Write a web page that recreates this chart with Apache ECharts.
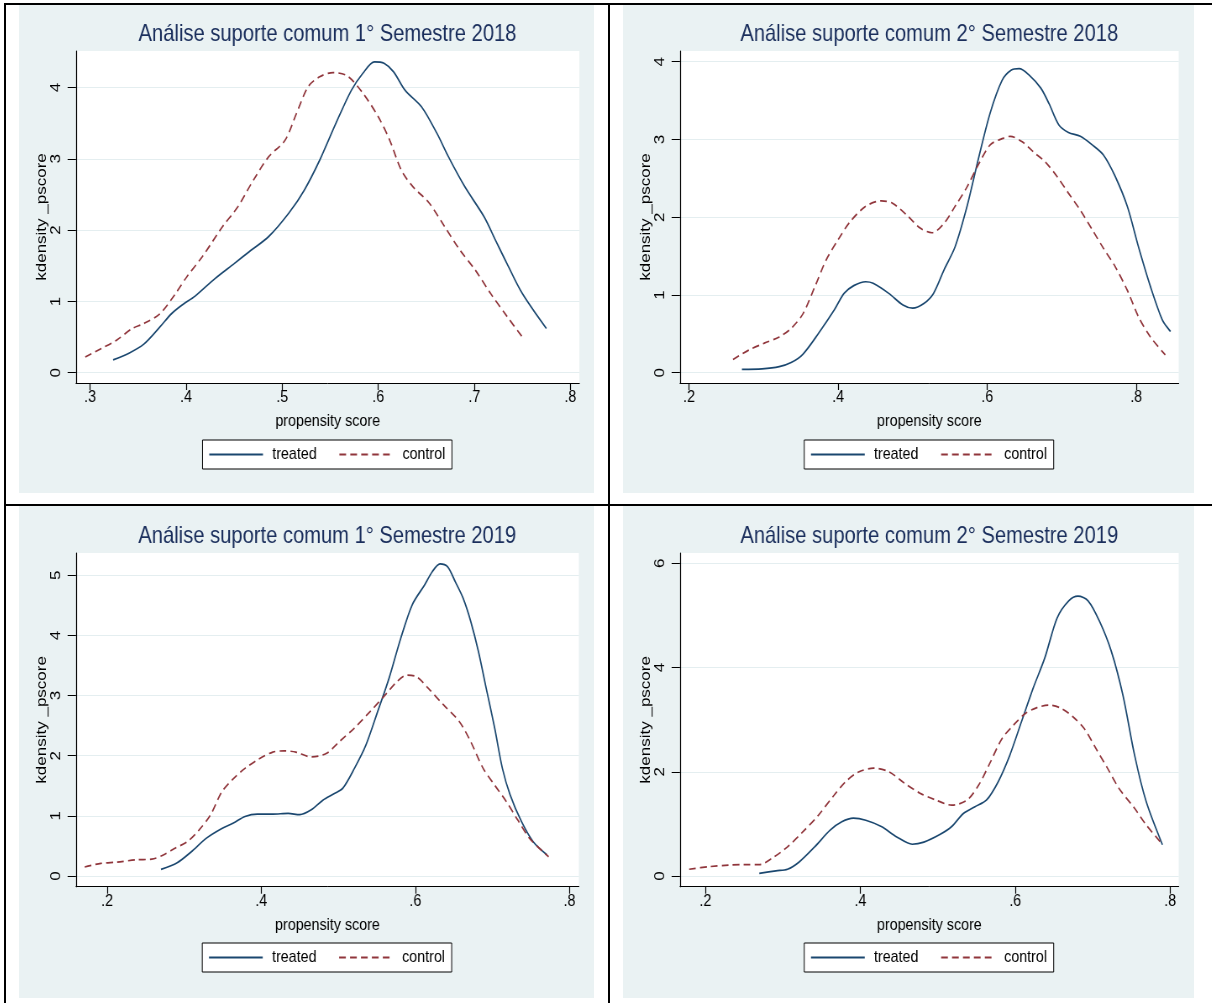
<!DOCTYPE html>
<html><head><meta charset="utf-8">
<script src="https://cdn.jsdelivr.net/npm/echarts@6/dist/echarts.min.js"></script>
<style>
html,body{margin:0;padding:0;background:#fff;}
#page{position:relative;width:1212px;height:1003px;overflow:hidden;background:#fff;}
.rule{position:absolute;background:#000;}
.panel{position:absolute;overflow:hidden;background:#EAF2F3;}
.chart{position:absolute;left:0;top:0;transform-origin:0 0;}
</style></head><body>
<div id="page">
 <div class="rule" style="left:4px;top:3px;width:1208px;height:2px"></div>
 <div class="rule" style="left:4px;top:3px;width:2px;height:1000px"></div>
 <div class="rule" style="left:608px;top:3px;width:2px;height:1000px"></div>
 <div class="rule" style="left:4px;top:504px;width:1208px;height:2px"></div>
 <div class="panel" style="left:19px;top:5px;width:575px;height:488px"><div class="chart" id="c1"></div></div>
 <div class="panel" style="left:623px;top:5px;width:571px;height:488px"><div class="chart" id="c2"></div></div>
 <div class="panel" style="left:19px;top:506px;width:575px;height:492px"><div class="chart" id="c3"></div></div>
 <div class="panel" style="left:623px;top:506px;width:571px;height:492px"><div class="chart" id="c4"></div></div>
</div>
<script>
// ---------- data ----------
const titles = [
  'Análise suporte comum 1° Semestre 2018',
  'Análise suporte comum 2° Semestre 2018',
  'Análise suporte comum 1° Semestre 2019',
  'Análise suporte comum 2° Semestre 2019'
];
const seriesNames = ['treated', 'control'];
const xAxisTitle = 'propensity score';
const yAxisTitle = 'kdensity _pscore';

const xTicks1 = [0.3, 0.4, 0.5, 0.6, 0.7, 0.8];
const yTicks1 = [0, 1, 2, 3, 4];
const xTicks2 = [0.2, 0.4, 0.6, 0.8];
const yTicks2 = [0, 1, 2, 3, 4];
const xTicks3 = [0.2, 0.4, 0.6, 0.8];
const yTicks3 = [0, 1, 2, 3, 4, 5];
const xTicks4 = [0.2, 0.4, 0.6, 0.8];
const yTicks4 = [0, 2, 4, 6];

const treated1 = [[0.324,0.18],[0.340,0.27],[0.356,0.40],[0.373,0.645],[0.385,0.83],[0.397,0.96],[0.409,1.07],[0.430,1.32],[0.450,1.53],[0.466,1.70],[0.486,1.91],[0.507,2.24],[0.523,2.56],[0.539,2.98],[0.556,3.50],[0.572,3.96],[0.584,4.20],[0.596,4.36],[0.606,4.34],[0.616,4.22],[0.628,3.96],[0.645,3.73],[0.661,3.36],[0.673,3.03],[0.690,2.61],[0.710,2.19],[0.722,1.86],[0.734,1.53],[0.750,1.11],[0.775,0.62]];
const control1 = [[0.295,0.22],[0.312,0.34],[0.328,0.46],[0.344,0.62],[0.356,0.69],[0.373,0.83],[0.389,1.11],[0.401,1.35],[0.417,1.63],[0.438,2.05],[0.454,2.33],[0.470,2.70],[0.486,3.03],[0.503,3.26],[0.515,3.64],[0.527,4.01],[0.539,4.15],[0.553,4.21],[0.568,4.16],[0.584,3.92],[0.600,3.59],[0.612,3.26],[0.624,2.84],[0.636,2.61],[0.653,2.38],[0.669,2.05],[0.685,1.72],[0.701,1.44],[0.717,1.11],[0.734,0.79],[0.750,0.50]];

const treated2 = [[0.271,0.044],[0.298,0.05],[0.321,0.077],[0.337,0.13],[0.353,0.24],[0.374,0.51],[0.395,0.81],[0.408,1.02],[0.421,1.12],[0.437,1.17],[0.447,1.15],[0.468,1.02],[0.487,0.87],[0.500,0.83],[0.515,0.89],[0.528,1.02],[0.542,1.32],[0.557,1.62],[0.573,2.14],[0.589,2.78],[0.604,3.34],[0.620,3.76],[0.632,3.89],[0.643,3.91],[0.656,3.83],[0.672,3.66],[0.683,3.46],[0.696,3.19],[0.709,3.09],[0.725,3.04],[0.741,2.93],[0.756,2.80],[0.772,2.52],[0.788,2.14],[0.803,1.62],[0.819,1.11],[0.835,0.68],[0.846,0.53]];
const control2 = [[0.259,0.17],[0.280,0.29],[0.301,0.38],[0.321,0.46],[0.337,0.57],[0.353,0.76],[0.369,1.11],[0.384,1.45],[0.400,1.71],[0.416,1.94],[0.437,2.14],[0.458,2.21],[0.473,2.18],[0.494,2.01],[0.510,1.86],[0.526,1.80],[0.542,1.92],[0.557,2.14],[0.573,2.39],[0.589,2.69],[0.604,2.93],[0.620,3.01],[0.631,3.04],[0.647,2.97],[0.662,2.84],[0.678,2.71],[0.694,2.52],[0.709,2.31],[0.725,2.09],[0.741,1.84],[0.756,1.60],[0.772,1.36],[0.788,1.06],[0.803,0.72],[0.819,0.46],[0.839,0.23]];

const treated3 = [[0.270,0.11],[0.291,0.22],[0.309,0.40],[0.329,0.63],[0.349,0.79],[0.364,0.88],[0.379,0.99],[0.395,1.03],[0.415,1.03],[0.435,1.04],[0.450,1.02],[0.465,1.10],[0.480,1.26],[0.495,1.37],[0.506,1.46],[0.521,1.79],[0.536,2.18],[0.551,2.73],[0.566,3.29],[0.581,3.95],[0.596,4.51],[0.612,4.84],[0.622,5.06],[0.632,5.19],[0.642,5.14],[0.652,4.89],[0.662,4.62],[0.672,4.23],[0.682,3.73],[0.692,3.12],[0.703,2.46],[0.713,1.79],[0.723,1.35],[0.738,0.90],[0.753,0.57],[0.771,0.35]];
const control3 = [[0.171,0.15],[0.192,0.21],[0.213,0.23],[0.238,0.27],[0.258,0.28],[0.273,0.35],[0.288,0.46],[0.304,0.57],[0.319,0.76],[0.334,1.01],[0.349,1.40],[0.364,1.62],[0.379,1.79],[0.395,1.93],[0.415,2.06],[0.430,2.08],[0.445,2.06],[0.465,1.98],[0.485,2.04],[0.501,2.23],[0.521,2.46],[0.541,2.73],[0.561,3.01],[0.576,3.23],[0.589,3.34],[0.602,3.31],[0.617,3.12],[0.637,2.84],[0.657,2.57],[0.672,2.23],[0.688,1.79],[0.703,1.51],[0.718,1.24],[0.733,0.93],[0.748,0.63],[0.766,0.40],[0.773,0.32]];

const treated4 = [[0.2695,0.05],[0.291,0.10],[0.306,0.13],[0.321,0.27],[0.341,0.56],[0.361,0.88],[0.376,1.04],[0.391,1.11],[0.407,1.07],[0.427,0.95],[0.447,0.75],[0.467,0.61],[0.482,0.65],[0.502,0.79],[0.518,0.95],[0.533,1.20],[0.548,1.33],[0.563,1.46],[0.578,1.81],[0.593,2.32],[0.608,2.96],[0.623,3.60],[0.638,4.18],[0.654,4.95],[0.669,5.28],[0.681,5.37],[0.694,5.28],[0.709,4.88],[0.724,4.31],[0.739,3.47],[0.754,2.32],[0.769,1.43],[0.790,0.60]];
const control4 = [[0.179,0.13],[0.205,0.18],[0.230,0.21],[0.250,0.22],[0.270,0.22],[0.286,0.34],[0.306,0.56],[0.326,0.85],[0.346,1.17],[0.366,1.55],[0.381,1.81],[0.397,1.99],[0.417,2.07],[0.437,2.00],[0.457,1.78],[0.477,1.59],[0.497,1.46],[0.518,1.36],[0.538,1.46],[0.553,1.75],[0.568,2.19],[0.583,2.64],[0.598,2.90],[0.613,3.12],[0.628,3.23],[0.643,3.28],[0.659,3.22],[0.674,3.06],[0.689,2.83],[0.704,2.45],[0.719,2.07],[0.734,1.68],[0.754,1.30],[0.769,0.98],[0.787,0.66]];

// ---------- layout / style ----------
const S = 0.84; // horizontal squeeze of the original picture
const FONT = '"Liberation Sans", Arial, Helvetica, sans-serif';
const C_TREAT = '#1a476f';
const C_CTRL = '#90353b';

const panels = [
  {id:'c1', w:575, h:488, title:titles[0], t:treated1, c:control1, xt:xTicks1, yt:yTicks1, xr:[0.2854,0.8094], yr:[-0.1445,4.512], g:{l:57,r:15,t:46,b:110}, titleTop:17, legendTop:435},
  {id:'c2', w:571, h:488, title:titles[1], t:treated2, c:control2, xt:xTicks2, yt:yTicks2, xr:[0.1879,0.857], yr:[-0.1325,4.1376], g:{l:57,r:15.5,t:46,b:110}, titleTop:17, legendTop:435},
  {id:'c3', w:575, h:492, title:titles[2], t:treated3, c:control3, xt:xTicks3, yt:yTicks3, xr:[0.1597,0.8123], yr:[-0.178,5.371], g:{l:57,r:15.5,t:47,b:111.3}, titleTop:18, legendTop:437},
  {id:'c4', w:571, h:492, title:titles[3], t:treated4, c:control4, xt:xTicks4, yt:yTicks4, xr:[0.1672,0.811], yr:[-0.205,6.198], g:{l:57,r:15.5,t:47,b:111.3}, titleTop:18, legendTop:437}
];

function fmtX(v){ return Number(v).toFixed(1).replace(/^0/, ''); }

panels.forEach(function(p){
  const el = document.getElementById(p.id);
  const W = p.w / S;
  el.style.width = W + 'px';
  el.style.height = p.h + 'px';
  el.style.transform = 'scaleX(' + S + ')';
  const gl = p.g.l / S, gr = p.g.r / S;
  const center = gl + (W - gl - gr) / 2;
  const chart = echarts.init(el, null, {renderer:'canvas'});
  chart.setOption({
    animation:false,
    backgroundColor:'#EAF2F3',
    textStyle:{fontFamily:FONT},
    title:{
      text:p.title, left:center, top:p.titleTop, textAlign:'center', padding:0,
      textStyle:{fontFamily:FONT, fontSize:24, fontWeight:'normal', color:'#1a2e5c'}
    },
    legend:{
      data:seriesNames, left:center - 297.6/2, top:p.legendTop, orient:'horizontal',
      itemWidth:64, itemHeight:14, itemGap:26, padding:[6,8,6,7],
      borderColor:'#000', borderWidth:1, backgroundColor:'#fff', borderRadius:0,
      itemStyle:{opacity:0, borderWidth:0},
      textStyle:{fontFamily:FONT, fontSize:17, color:'#000', padding:[0,0,0,6]}
    },
    grid:{left:gl, right:gr, top:p.g.t, bottom:p.g.b, show:true, backgroundColor:'#fff', borderWidth:0, containLabel:false},
    xAxis:{
      type:'value', min:p.xr[0], max:p.xr[1],
      name:xAxisTitle, nameLocation:'middle', nameGap:30, nameMoveOverlap:false,
      nameTextStyle:{fontFamily:FONT, fontSize:17, color:'#000'},
      axisLine:{show:true, onZero:false, lineStyle:{color:'#000', width:1}},
      axisTick:{show:true, length:7, customValues:p.xt, lineStyle:{color:'#000', width:1.2}},
      axisLabel:{show:true, margin:6, customValues:p.xt, formatter:fmtX, fontFamily:FONT, fontSize:17, color:'#000'},
      splitLine:{show:false}
    },
    yAxis:{
      type:'value', min:p.yr[0], max:p.yr[1],
      name:yAxisTitle, nameLocation:'middle', nameGap:32, nameRotate:90, nameMoveOverlap:false,
      nameTextStyle:{fontFamily:FONT, fontSize:17, color:'#000'},
      axisLine:{show:true, onZero:false, lineStyle:{color:'#000', width:1.2}},
      axisTick:{show:true, length:10, customValues:p.yt, lineStyle:{color:'#000', width:1}},
      axisLabel:{show:true, rotate:90, margin:15, customValues:p.yt, formatter:function(v){return String(v);}, fontFamily:FONT, fontSize:17, color:'#000'},
      splitLine:{show:true, lineStyle:{color:'#e4eef0', width:1.2}}
    },
    series:[
      {name:seriesNames[0], type:'line', data:p.t, symbol:'none', showSymbol:false, smooth:0.3,
       itemStyle:{color:C_TREAT}, lineStyle:{color:C_TREAT, width:1.7, type:'solid'}},
      {name:seriesNames[1], type:'line', data:p.c, symbol:'none', showSymbol:false, smooth:0.3,
       itemStyle:{color:C_CTRL}, lineStyle:{color:C_CTRL, width:1.7, type:[8,5]}}
    ]
  });
});
</script>
</body></html>
